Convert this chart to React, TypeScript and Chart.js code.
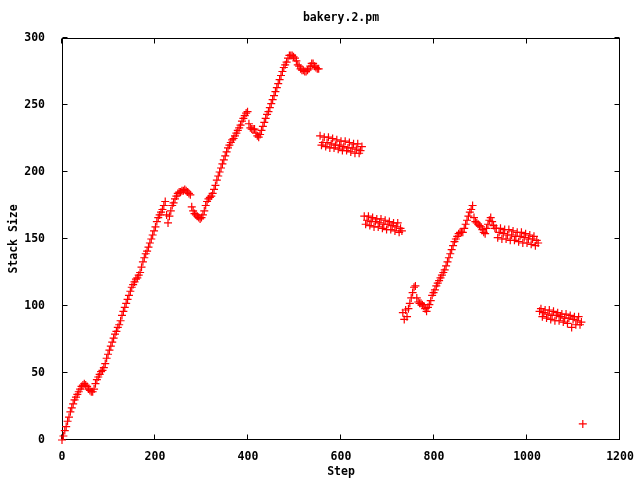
import { useEffect, useRef } from "react";
import { Chart, registerables } from "chart.js";

Chart.register(...registerables);

const chartTitle = "bakery.2.pm";
const xAxisTitle = "Step";
const yAxisTitle = "Stack Size";

const xTicks = [0, 200, 400, 600, 800, 1000, 1200];
const yTicks = [0, 50, 100, 150, 200, 250, 300];

// First continuous climb
const climbSteps = [
  0, 3, 6, 9, 12, 15, 18, 21, 24, 27, 30, 33, 36, 39, 42, 45, 48, 51, 54, 57,
  60, 63, 66, 69, 72, 75, 78, 81, 84, 87, 90, 93, 96, 99, 102, 105, 108, 111, 114, 117,
  120, 123, 126, 129, 132, 135, 138, 141, 144, 147, 150, 153, 156, 159, 162, 165, 168, 171, 174, 177,
  180, 183, 186, 189, 192, 195, 198, 201, 204, 207, 210, 213, 216, 219, 222, 225, 228, 231, 234, 237,
  240, 243, 246, 249, 252, 255, 258, 261, 264, 267, 270, 273, 276, 279, 282, 285, 288, 291, 294, 297,
  300, 303, 306, 309, 312, 315, 318, 321, 324, 327, 330, 333, 336, 339, 342, 345, 348, 351, 354, 357,
  360, 363, 366, 369, 372, 375, 378, 381, 384, 387, 390, 393, 396, 399, 402, 405, 408, 411, 414, 417,
  420, 423, 426, 429, 432, 435, 438, 441, 444, 447, 450, 453, 456, 459, 462, 465, 468, 471, 474, 477,
  480, 483, 486, 489, 492, 495, 498, 501, 504, 507, 510, 513, 516, 519, 522, 525, 528, 531, 534, 537,
  540, 543, 546, 549, 552,
];
const climbSizes = [
  0, 3, 7, 10, 14, 17, 21, 24, 27, 30, 32, 34, 36, 38, 40, 41, 42, 41, 40, 38,
  37, 36, 36, 38, 42, 45, 47, 49, 51, 52, 54, 57, 61, 64, 67, 70, 73, 76, 79, 81,
  84, 86, 89, 93, 96, 99, 102, 105, 108, 111, 114, 116, 118, 120, 121, 123, 125, 129, 133, 136,
  139, 141, 144, 147, 150, 153, 156, 159, 163, 166, 168, 170, 172, 175, 178, 168, 162, 167, 171, 175,
  177, 180, 182, 184, 185, 185, 186, 186, 187, 186, 185, 184, 183, 174, 171, 169, 168, 167, 166, 165,
  166, 168, 171, 175, 178, 180, 181, 182, 184, 187, 190, 194, 197, 200, 203, 206, 209, 212, 215, 218,
  220, 222, 224, 225, 227, 229, 231, 233, 235, 238, 240, 242, 244, 245, 236, 233, 232, 232, 232, 229,
  227, 226, 228, 231, 234, 237, 240, 243, 245, 248, 251, 254, 257, 260, 263, 266, 269, 272, 275, 278,
  280, 282, 285, 287, 287, 287, 286, 285, 283, 280, 279, 277, 276, 276, 275, 275, 276, 277, 279, 281,
  281, 279, 278, 277, 277,
];

// Flat band around 220
const band1Steps = [
  555, 558, 561, 564, 567, 570, 573, 576, 579, 582, 585, 588, 591, 594, 597, 600,
  603, 606, 609, 612, 615, 618, 621, 624, 627, 630, 633, 636, 639, 642, 645,
];
const band1Sizes = [
  227, 220, 222, 226, 219, 222, 226, 218, 221, 225, 218, 220, 224, 217, 220, 223,
  216, 219, 223, 216, 218, 222, 215, 218, 221, 214, 217, 221, 214, 216, 219,
];

// Flat band around 160
const band2Steps = [
  650, 653, 656, 659, 662, 665, 668, 671, 674, 677, 680, 683, 686, 689,
  692, 695, 698, 701, 704, 707, 710, 713, 716, 719, 722, 725, 728, 731,
];
const band2Sizes = [
  167, 161, 164, 167, 160, 163, 166, 159, 163, 165, 159, 162, 165, 158,
  161, 164, 157, 161, 163, 157, 160, 162, 156, 159, 162, 155, 158, 156,
];

// Second climb
const riseSteps = [
  733, 736, 739, 742, 745, 748, 751, 754, 757, 760, 763, 766, 769, 772, 775, 778, 781, 784, 787, 790,
  793, 796, 799, 802, 805, 808, 811, 814, 817, 820, 823, 826, 829, 832, 835, 838, 841, 844, 847, 850,
  853, 856, 859, 862, 865, 868, 871, 874, 877, 880, 883, 886, 889, 892, 895, 898, 901, 904, 907, 910,
  913, 916, 919, 922, 925, 928, 931,
];
const riseSizes = [
  95, 90, 97, 92, 98, 102, 106, 110, 114, 115, 106, 103, 102, 102, 101, 100, 98, 96, 99, 101,
  104, 108, 110, 112, 115, 117, 119, 121, 123, 125, 127, 130, 133, 136, 139, 142, 145, 148, 150, 152,
  154, 155, 155, 155, 158, 161, 164, 167, 170, 172, 175, 166, 163, 162, 161, 160, 159, 157, 155, 154,
  158, 161, 164, 166, 163, 160, 158,
];

// Flat band around 150
const band3Steps = [
  934, 937, 940, 943, 946, 949, 952, 955, 958, 961, 964, 967, 970, 973, 976, 979,
  982, 985, 988, 991, 994, 997, 1000, 1003, 1006, 1009, 1012, 1015, 1018, 1021, 1024,
];
const band3Sizes = [
  158, 151, 155, 158, 150, 154, 157, 150, 153, 157, 149, 153, 156, 149, 152, 155,
  148, 152, 155, 147, 151, 154, 147, 150, 153, 146, 150, 152, 145, 149, 147,
];

// Flat band around 90
const band4Steps = [
  1027, 1030, 1033, 1036, 1039, 1042, 1045, 1048, 1051, 1054, 1057, 1060, 1063, 1066, 1069, 1072,
  1075, 1078, 1081, 1084, 1087, 1090, 1093, 1096, 1099, 1102, 1105, 1108, 1111, 1114, 1117,
];
const band4Sizes = [
  96, 98, 92, 95, 97, 91, 94, 97, 90, 93, 96, 89, 93, 95, 89, 92,
  94, 88, 91, 94, 87, 91, 93, 84, 90, 92, 86, 89, 92, 86, 88,
];

// Final point
const lastSteps = [1120];
const lastSizes = [12];

const stepGroups = [climbSteps, band1Steps, band2Steps, riseSteps, band3Steps, band4Steps, lastSteps];
const sizeGroups = [climbSizes, band1Sizes, band2Sizes, riseSizes, band3Sizes, band4Sizes, lastSizes];

const FONT = "'DejaVu Sans Mono', 'Liberation Mono', monospace";
const FONT_SIZE = 11.5;
const RED = "#ff0000";

const framePlugin = {
  id: "gnuframe",
  beforeDatasetsDraw(chart: any) {
    const { ctx, chartArea: a, scales } = chart;
    const L = Math.round(a.left) + 0.5;
    const R = Math.round(a.right) - 0.5;
    const T = Math.round(a.top) + 0.5;
    const B = Math.round(a.bottom) - 0.5;
    ctx.save();
    ctx.strokeStyle = "#000";
    ctx.lineWidth = 1;
    ctx.strokeRect(L, T, R - L, B - T);
    ctx.beginPath();
    for (const v of xTicks) {
      const px = Math.round(scales.x.getPixelForValue(v)) - 0.5;
      ctx.moveTo(px, B);
      ctx.lineTo(px, B - 5);
      ctx.moveTo(px, T);
      ctx.lineTo(px, T + 5);
    }
    for (const v of yTicks) {
      const py = Math.round(scales.y.getPixelForValue(v)) - 0.5;
      ctx.moveTo(L, py);
      ctx.lineTo(L + 5, py);
      ctx.moveTo(R, py);
      ctx.lineTo(R - 5, py);
    }
    ctx.stroke();
    ctx.restore();
  },
};

export default function App() {
  const ref = useRef<HTMLCanvasElement | null>(null);

  useEffect(() => {
    if (!ref.current) return;
    const points: { x: number; y: number }[] = [];
    stepGroups.forEach((g, gi) => {
      g.forEach((s, i) => points.push({ x: s, y: sizeGroups[gi][i] }));
    });

    const chart = new Chart(ref.current, {
      type: "scatter",
      data: {
        datasets: [
          {
            data: points,
            pointStyle: "cross",
            pointRadius: 4,
            pointHoverRadius: 4,
            pointBorderWidth: 1.2,
            pointBorderColor: RED,
            pointBackgroundColor: RED,
            borderColor: RED,
            backgroundColor: RED,
            showLine: false,
            clip: false as any,
          } as any,
        ],
      },
      options: {
        animation: false,
        responsive: false,
        events: [],
        layout: { padding: { left: 0, right: 20, top: 0, bottom: 0 } },
        plugins: {
          legend: { display: false },
          tooltip: { enabled: false },
          title: {
            display: true,
            text: chartTitle,
            fullSize: false,
            color: "#000",
            font: { family: FONT, size: FONT_SIZE, weight: "bold" },
            padding: { top: 11.5, bottom: 12.7 },
          },
        },
        scales: {
          x: {
            type: "linear",
            min: 0,
            max: 1200,
            grid: { display: false },
            border: { display: false },
            afterBuildTicks: (s: any) => {
              s.ticks = xTicks.map((v) => ({ value: v }));
            },
            afterFit: (s: any) => {
              s.height = 40;
            },
            ticks: {
              color: "#000",
              padding: 2,
              maxRotation: 0,
              autoSkip: false,
              callback: (v: any) => String(v),
              font: { family: FONT, size: FONT_SIZE, weight: "bold" },
            },
            title: {
              display: true,
              text: xAxisTitle,
              color: "#000",
              font: { family: FONT, size: FONT_SIZE, weight: "bold" },
              padding: { top: 0, bottom: 1 },
            },
          },
          y: {
            type: "linear",
            min: 0,
            max: 300,
            grid: { display: false },
            border: { display: false },
            afterBuildTicks: (s: any) => {
              s.ticks = yTicks.map((v) => ({ value: v }));
            },
            afterFit: (s: any) => {
              s.width = 62;
            },
            ticks: {
              color: "#000",
              padding: 9,
              autoSkip: false,
              callback: (v: any) => String(v),
              font: { family: FONT, size: FONT_SIZE, weight: "bold" },
            },
            title: {
              display: true,
              text: yAxisTitle,
              color: "#000",
              font: { family: FONT, size: FONT_SIZE, weight: "bold" },
              padding: { top: 7, bottom: 0 },
            },
          },
        },
      },
      plugins: [framePlugin],
    });
    return () => chart.destroy();
  }, []);

  return (
    <div style={{ position: "absolute", left: 0, top: 0, width: 640, height: 480, background: "#fff" }}>
      <canvas ref={ref} width={640} height={480} />
    </div>
  );
}
